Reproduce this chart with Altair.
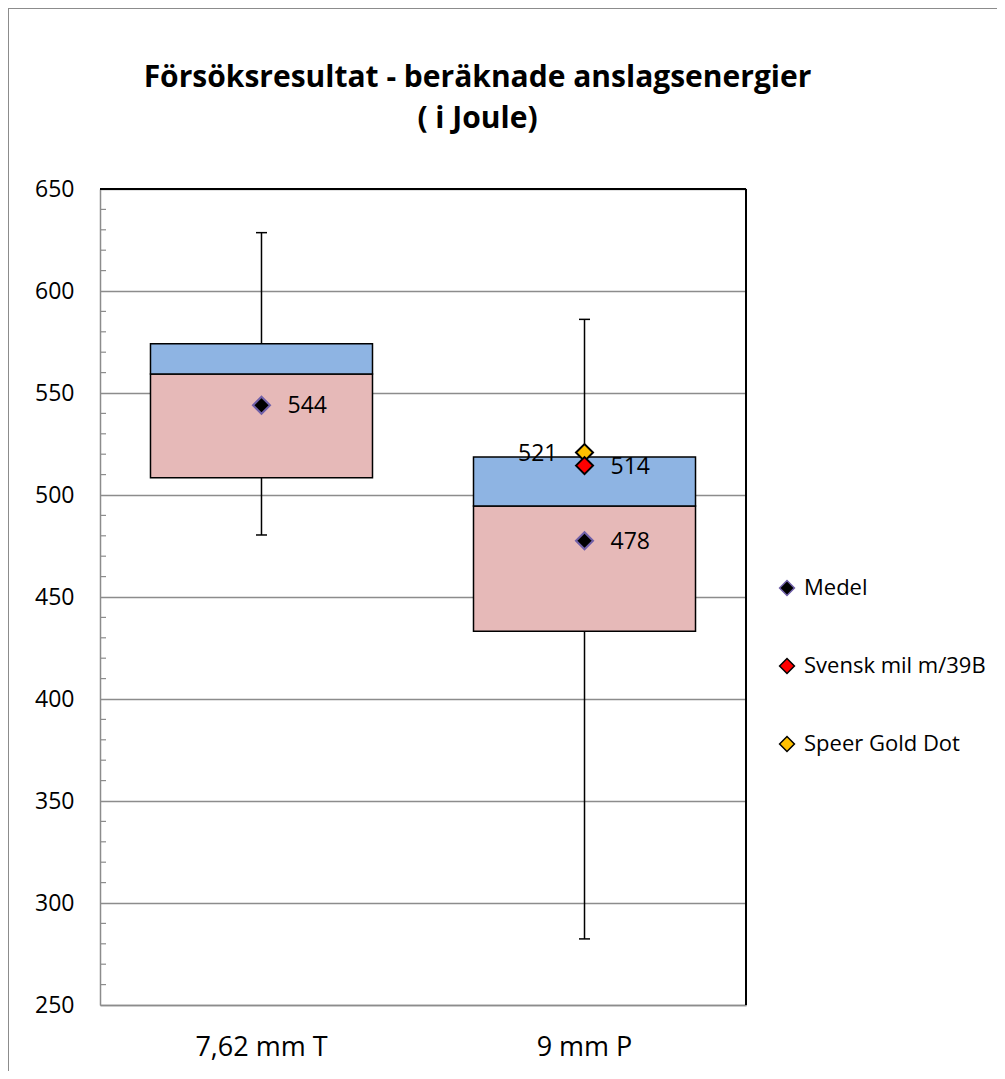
import altair as alt
import pandas as pd

# ---------------- data ----------------
CATEGORIES = ["7,62 mm T", "9 mm P"]
Q1 = [508.5, 433.2]
MEDIAN = [559.3, 494.6]
Q3 = [574.2, 518.6]
WHISKER_LOW = [480.4, 282.4]
WHISKER_HIGH = [628.6, 586.1]

SERIES = ["Medel", "Svensk mil m/39B", "Speer Gold Dot"]
SERIES_FILL = ["black", "#FF0000", "#FFC000"]
SERIES_STROKE = ["#7060A8", "black", "black"]

POINT_CATEGORY = ["7,62 mm T", "9 mm P", "9 mm P", "9 mm P"]
POINT_SERIES = ["Medel", "Medel", "Speer Gold Dot", "Svensk mil m/39B"]
POINT_VALUE = [544.0, 477.6, 520.8, 514.4]
LABEL_SIDE = ["right", "right", "left", "right"]

TITLE_LINES = ["Försöksresultat - beräknade anslagsenergier", "( i Joule)"]
Y_TICKS = [250, 300, 350, 400, 450, 500, 550, 600, 650]
MINOR_TICKS = [v for v in range(260, 650, 10) if v % 50 != 0]

FONT = "Open Sans"
GRID = "#8c8c8c"
W, H = 646, 816

box_df = pd.DataFrame({"cat": CATEGORIES, "q1": Q1, "med": MEDIAN, "q3": Q3,
                       "lo": WHISKER_LOW, "hi": WHISKER_HIGH})
pt_df = pd.DataFrame({"cat": POINT_CATEGORY, "series": POINT_SERIES,
                      "value": POINT_VALUE, "side": LABEL_SIDE})
minor_df = pd.DataFrame({"v": MINOR_TICKS})
one_df = pd.DataFrame({"k": [0]})

x_enc = alt.X("cat:N", sort=CATEGORIES,
              scale=alt.Scale(paddingInner=0.3127, paddingOuter=0.1563),
              axis=alt.Axis(title=None, labelAngle=0, labelFont=FONT, labelFontSize=27,
                            labelColor="black", labelPadding=29, ticks=False, tickSize=0,
                            domainColor=GRID, domainWidth=1.5, grid=False))
y_scale = alt.Scale(domain=[250, 650], nice=False, zero=False)
y_axis = alt.Axis(title=None, values=Y_TICKS, grid=True, gridColor=GRID, gridWidth=1.5,
                  ticks=False, tickSize=0, labelPadding=26, labelFont=FONT, labelFontSize=23,
                  labelColor="black", domainColor=GRID, domainWidth=1.5)


def Y(field):
    return alt.Y(field, scale=y_scale, axis=y_axis)


base = alt.Chart(box_df)
whisker = base.mark_rule(color="black", strokeWidth=1.5).encode(x=x_enc, y=Y("lo:Q"), y2="hi:Q")
cap_lo = base.mark_tick(color="black", size=11, thickness=1.5, opacity=1).encode(x=x_enc, y=Y("lo:Q"))
cap_hi = base.mark_tick(color="black", size=11, thickness=1.5, opacity=1).encode(x=x_enc, y=Y("hi:Q"))
lower = base.mark_bar(fill="#E6B9B8", stroke="black", strokeWidth=1.5).encode(
    x=x_enc, y=Y("q1:Q"), y2="med:Q")
upper = base.mark_bar(fill="#8EB4E3", stroke="black", strokeWidth=1.5).encode(
    x=x_enc, y=Y("med:Q"), y2="q3:Q")

minor = alt.Chart(minor_df).mark_rule(color=GRID, strokeWidth=1.2).encode(
    y=Y("v:Q"), x=alt.value(0), x2=alt.value(6))

legend = alt.Legend(title=None, orient="none", legendX=676, legendY=388, direction="vertical",
                    symbolType="diamond", symbolSize=220, symbolStrokeWidth=1.5,
                    labelFont=FONT, labelFontSize=22, labelColor="black", labelOffset=6,
                    labelLimit=400, rowPadding=56, padding=0)

points = alt.Chart(pt_df).mark_point(shape="diamond", filled=True, size=290, strokeWidth=2,
                                     opacity=1).encode(
    x=x_enc, y=Y("value:Q"),
    fill=alt.Fill("series:N", scale=alt.Scale(domain=SERIES, range=SERIES_FILL), legend=legend),
    stroke=alt.Stroke("series:N", scale=alt.Scale(domain=SERIES, range=SERIES_STROKE), legend=legend),
)

labels_r = alt.Chart(pt_df).transform_filter("datum.side == 'right'").mark_text(
    align="left", baseline="middle", dx=26, dy=1, font=FONT, fontSize=23, color="black").encode(
    x=x_enc, y=Y("value:Q"), text=alt.Text("value:Q", format=".0f"))
labels_l = alt.Chart(pt_df).transform_filter("datum.side == 'left'").mark_text(
    align="right", baseline="middle", dx=-27, dy=1, font=FONT, fontSize=23, color="black").encode(
    x=x_enc, y=Y("value:Q"), text=alt.Text("value:Q", format=".0f"))

one = alt.Chart(one_df)
border_top = one.mark_rule(color="black", strokeWidth=2).encode(
    x=alt.value(0), x2=alt.value(W), y=alt.value(0))
border_right = one.mark_rule(color="black", strokeWidth=2).encode(
    x=alt.value(W), y=alt.value(0), y2=alt.value(H))
frame_left = one.mark_rule(color=GRID, strokeWidth=2).encode(
    x=alt.value(-92), y=alt.value(-181), y2=alt.value(900))
frame_top = one.mark_rule(color=GRID, strokeWidth=2).encode(
    x=alt.value(-92), x2=alt.value(920), y=alt.value(-181))

title = one.mark_text(font=FONT, fontSize=30, fontWeight="bold", align="center",
                      baseline="alphabetic", lineHeight=41, color="black").encode(
    x=alt.value(377.5), y=alt.value(-102), text=alt.value(TITLE_LINES))

chart = alt.layer(
    whisker, cap_lo, cap_hi, lower, upper, minor, points, labels_r, labels_l,
    border_top, border_right, frame_left, frame_top, title
).properties(
    width=W, height=H,
    autosize=alt.AutoSizeParams(type="none"),
    padding={"left": 92, "top": 181, "right": 251, "bottom": 66},
    background="white",
).configure_view(strokeWidth=0)

chart.save("out.html", embed_options={"renderer": "svg", "actions": False})
